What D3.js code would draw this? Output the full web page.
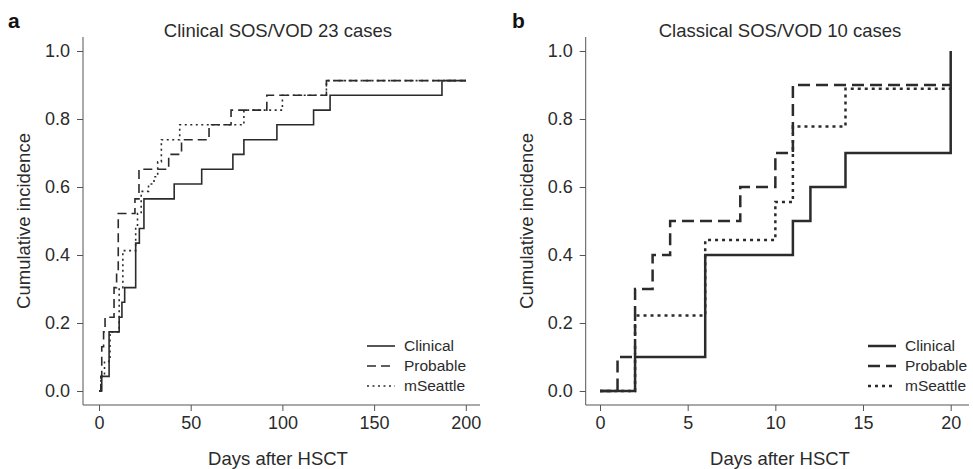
<!DOCTYPE html>
<html>
<head>
<meta charset="utf-8">
<script src="https://cdn.jsdelivr.net/npm/d3@7"></script>
<style>
  body { margin: 0; background: #fff; }
  svg { font-family: "Liberation Sans", Arial, sans-serif; }
</style>
</head>
<body>
<div id="chart"></div>
<script>
// Panel a: Clinical SOS/VOD, 23 cases
const daysA_clinical = [1.5, 5.5, 11, 12.5, 14, 20, 22, 24.5, 41, 56, 73, 79, 97, 117, 126, 187];
const ciA_clinical   = [0.043, 0.174, 0.217, 0.261, 0.304, 0.435, 0.478, 0.565, 0.609, 0.652, 0.696, 0.739, 0.783, 0.826, 0.870, 0.913];
const daysA_probable = [1, 1.5, 2.5, 3.3, 8.2, 9.6, 10.5, 19.6, 21.8, 38, 45, 60, 72, 91.5, 124];
const ciA_probable   = [0.043, 0.130, 0.174, 0.217, 0.304, 0.348, 0.522, 0.565, 0.652, 0.696, 0.739, 0.783, 0.826, 0.870, 0.913];
const daysA_mseattle = [1, 3, 6, 11, 13, 20, 21, 23, 27, 30, 32, 34, 44, 79, 100, 124];
const ciA_mseattle   = [0.043, 0.087, 0.174, 0.304, 0.413, 0.478, 0.522, 0.587, 0.609, 0.630, 0.674, 0.739, 0.783, 0.826, 0.870, 0.913];

// Panel b: Classical SOS/VOD, 10 cases
const daysB_clinical = [2, 6, 11, 12, 14, 20];
const ciB_clinical   = [0.1, 0.4, 0.5, 0.6, 0.7, 1.0];
const daysB_probable = [1, 2, 3, 4, 8, 10, 11];
const ciB_probable   = [0.1, 0.3, 0.4, 0.5, 0.6, 0.7, 0.9];
const daysB_mseattle = [2, 6, 10, 11, 14];
const ciB_mseattle   = [0.222, 0.444, 0.556, 0.778, 0.889];

const seriesNames = ['Clinical', 'Probable', 'mSeattle'];
const yTicks = [0, 0.2, 0.4, 0.6, 0.8, 1.0];
const xTicksA = [0, 50, 100, 150, 200];
const xTicksB = [0, 5, 10, 15, 20];

const W = 973, H = 469;
const INK = '#2b2b2b';
const AXIS = '#555';

const svg = d3.select('#chart').append('svg')
  .attr('width', W)
  .attr('height', H);

function drawPanel(p) {
  const g = svg.append('g');

  const x = d3.scaleLinear().domain(p.xDomain).range([p.x0, p.x1]);
  const y = d3.scaleLinear().domain([0, 1]).range([391, 51]);

  // L-shaped box
  g.append('path')
    .attr('d', `M${p.boxLeft},37V405H${p.boxRight}`)
    .attr('fill', 'none')
    .attr('stroke', AXIS)
    .attr('stroke-width', 1);

  const yAxis = d3.axisLeft(y)
    .tickValues(yTicks)
    .tickFormat(d3.format('.1f'))
    .tickSize(6)
    .tickPadding(7);
  const ya = g.append('g')
    .attr('transform', `translate(${p.boxLeft},0)`)
    .call(yAxis);

  const xAxis = d3.axisBottom(x)
    .tickValues(p.xTicks)
    .tickSize(6)
    .tickPadding(5);
  const xa = g.append('g')
    .attr('transform', 'translate(0,405)')
    .call(xAxis);

  [ya, xa].forEach(a => {
    a.select('.domain').remove();
    a.selectAll('line').attr('stroke', AXIS);
    a.selectAll('text')
      .attr('fill', INK)
      .style('font-size', '18px');
  });

  // step curves
  const line = d3.line()
    .x(d => x(d[0]))
    .y(d => y(d[1]))
    .curve(d3.curveStepAfter);

  p.series.forEach((s, i) => {
    const pts = [[0, 0]].concat(s.days.map((t, j) => [t, s.ci[j]]));
    const last = pts[pts.length - 1];
    if (last[0] < p.xDomain[1]) pts.push([p.xDomain[1], last[1]]);
    g.append('path')
      .datum(pts)
      .attr('d', line)
      .attr('fill', 'none')
      .attr('stroke', INK)
      .attr('stroke-width', p.lw)
      .attr('stroke-dasharray', p.dash[i]);
  });

  // legend
  seriesNames.forEach((name, i) => {
    const ly = 346 + i * 20;
    g.append('line')
      .attr('x1', p.legX).attr('x2', p.legX + 28)
      .attr('y1', ly).attr('y2', ly)
      .attr('stroke', INK)
      .attr('stroke-width', p.lw)
      .attr('stroke-dasharray', p.dash[i]);
    g.append('text')
      .attr('x', p.legX + 37)
      .attr('y', ly)
      .attr('dy', '0.35em')
      .attr('fill', INK)
      .style('font-size', '15.5px')
      .text(name);
  });

  // titles
  g.append('text')
    .attr('x', p.titleX).attr('y', 37)
    .attr('text-anchor', 'middle')
    .attr('fill', INK)
    .style('font-size', '18.5px')
    .text(p.title);

  g.append('text')
    .attr('x', p.titleX).attr('y', 465)
    .attr('text-anchor', 'middle')
    .attr('fill', INK)
    .style('font-size', '18.5px')
    .text('Days after HSCT');

  g.append('text')
    .attr('transform', `translate(${p.boxLeft - 53},221) rotate(-90)`)
    .attr('text-anchor', 'middle')
    .attr('fill', INK)
    .style('font-size', '18.5px')
    .text('Cumulative incidence');

  g.append('text')
    .attr('x', p.letterX).attr('y', 28)
    .attr('fill', '#111')
    .style('font-size', '21px')
    .style('font-weight', 'bold')
    .text(p.letter);
}

drawPanel({
  letter: 'a', letterX: 8,
  title: 'Clinical SOS/VOD 23 cases', titleX: 278,
  xDomain: [0, 200], x0: 99, x1: 465.8, xTicks: xTicksA,
  boxLeft: 83, boxRight: 480,
  lw: 1.6, dash: ['none', '9,5', '2,3.5'],
  legX: 367,
  series: [
    {days: daysA_clinical, ci: ciA_clinical},
    {days: daysA_probable, ci: ciA_probable},
    {days: daysA_mseattle, ci: ciA_mseattle}
  ]
});

drawPanel({
  letter: 'b', letterX: 512,
  title: 'Classical SOS/VOD 10 cases', titleX: 780,
  xDomain: [0, 20], x0: 600, x1: 950.7, xTicks: xTicksB,
  boxLeft: 585.7, boxRight: 969,
  lw: 2.5, dash: ['none', '12,6', '3,4'],
  legX: 868,
  series: [
    {days: daysB_clinical, ci: ciB_clinical},
    {days: daysB_probable, ci: ciB_probable},
    {days: daysB_mseattle, ci: ciB_mseattle}
  ]
});
</script>
</body>
</html>
